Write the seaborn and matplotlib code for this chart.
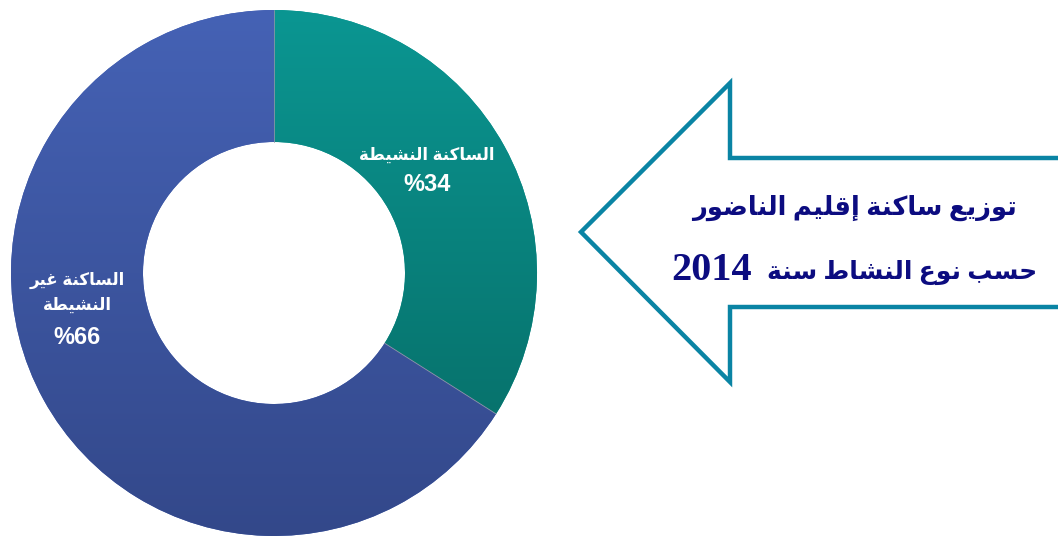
import re
import numpy as np
import matplotlib
matplotlib.use("Agg")
import matplotlib.pyplot as plt
import seaborn as sns

# data
categories = ["الساكنة النشيطة", "الساكنة غير النشيطة"]
shares = [34, 66]
slice_labels = [["الساكنة النشيطة"], ["الساكنة غير", "النشيطة"]]
title_line1 = "توزيع ساكنة إقليم الناضور"
title_line2 = "حسب نوع النشاط سنة"
title_year = "2014"

# gradient colours per slice (top -> bottom)
slice_colors = [("#0b9692", "#07736d"), ("#4562b5", "#33488a")]

sns.set_theme(style="white")
plt.rcParams["font.family"] = ["Liberation Sans", "DejaVu Sans"]

# small arabic shaper: isolated, final, initial, medial presentation forms
FORMS = {
    "ا": (0xFE8D, 0xFE8E, None, None),
    "إ": (0xFE87, 0xFE88, None, None),
    "ب": (0xFE8F, 0xFE90, 0xFE91, 0xFE92),
    "ة": (0xFE93, 0xFE94, None, None),
    "ت": (0xFE95, 0xFE96, 0xFE97, 0xFE98),
    "ح": (0xFEA1, 0xFEA2, 0xFEA3, 0xFEA4),
    "ر": (0xFEAD, 0xFEAE, None, None),
    "ز": (0xFEAF, 0xFEB0, None, None),
    "س": (0xFEB1, 0xFEB2, 0xFEB3, 0xFEB4),
    "ش": (0xFEB5, 0xFEB6, 0xFEB7, 0xFEB8),
    "ض": (0xFEBD, 0xFEBE, 0xFEBF, 0xFEC0),
    "ط": (0xFEC1, 0xFEC2, 0xFEC3, 0xFEC4),
    "ع": (0xFEC9, 0xFECA, 0xFECB, 0xFECC),
    "غ": (0xFECD, 0xFECE, 0xFECF, 0xFED0),
    "ق": (0xFED5, 0xFED6, 0xFED7, 0xFED8),
    "ك": (0xFED9, 0xFEDA, 0xFEDB, 0xFEDC),
    "ل": (0xFEDD, 0xFEDE, 0xFEDF, 0xFEE0),
    "م": (0xFEE1, 0xFEE2, 0xFEE3, 0xFEE4),
    "ن": (0xFEE5, 0xFEE6, 0xFEE7, 0xFEE8),
    "و": (0xFEED, 0xFEEE, None, None),
    "ي": (0xFEF1, 0xFEF2, 0xFEF3, 0xFEF4),
}
LAM_ALEF = {"ا": (0xFEFB, 0xFEFC), "إ": (0xFEF9, 0xFEFA)}


def joins_forward(c):
    return c in FORMS and FORMS[c][2] is not None


def shape(line):
    out = []
    i = 0
    while i < len(line):
        c = line[i]
        prev = line[i - 1] if i > 0 else ""
        nxt = line[i + 1] if i + 1 < len(line) else ""
        if c not in FORMS:
            out.append(c)
            i += 1
            continue
        jp = joins_forward(prev)
        if c == "ل" and nxt in LAM_ALEF:
            out.append(chr(LAM_ALEF[nxt][1 if jp else 0]))
            i += 2
            continue
        iso, fin, ini, med = FORMS[c]
        jn = ini is not None and nxt in FORMS
        if jp and jn:
            code = med
        elif jp:
            code = fin
        elif jn:
            code = ini
        else:
            code = iso
        out.append(chr(code))
        i += 1
    s = "".join(out)[::-1]
    return re.sub(r"[0-9]+", lambda m: m.group(0)[::-1], s)


W, H = 1058, 536
fig = plt.figure(figsize=(W / 100, H / 100), dpi=100)
ax = fig.add_axes([0, 0, 1, 1])

cx, cy, R, r_in = 274, H - 273, 263, 131
wedges, _ = ax.pie(shares, startangle=90, counterclock=False,
                   colors=[c[0] for c in slice_colors], center=(cx, cy),
                   radius=R, wedgeprops=dict(width=R - r_in, linewidth=0))

# vertical gradient inside each slice
for w, (top, bot) in zip(wedges, slice_colors):
    ext = w.get_path().get_extents()
    cmap = sns.blend_palette([bot, top], as_cmap=True)
    grad = np.linspace(0, 1, 256).reshape(-1, 1)
    im = ax.imshow(grad, cmap=cmap, origin="lower", aspect="auto",
                   extent=[ext.x0, ext.x1, ext.y0, ext.y1], zorder=2)
    im.set_clip_path(w)

# thin separators between slices
bounds = np.cumsum([0] + shares) / sum(shares)
for b in bounds[:2]:
    a = np.deg2rad(90 - 360 * b)
    ax.plot([cx + r_in * np.cos(a), cx + R * np.cos(a)],
            [cy + r_in * np.sin(a), cy + R * np.sin(a)],
            color="#8d93a8", lw=0.6, zorder=3)

# slice labels (text lines then percentage), baselines in image px
label_x = [427, 77]
label_base = [[160, 191], [285, 310, 344]]
for lx, lines, v, bases in zip(label_x, slice_labels, shares, label_base):
    for l, b in zip(lines, bases):
        ax.text(lx, H - b, shape(l), ha="center", va="baseline",
                color="white", fontsize=12, fontweight="bold", zorder=4)
    ax.text(lx, H - bases[-1], f"%{v}", ha="center", va="baseline",
            color="white", fontsize=17, fontweight="bold", zorder=4)

# arrow outline
arrow_x = [1070, 730, 730, 581, 730, 730, 1070]
arrow_y = [158, 158, 83, 232, 382, 307, 307]
ax.plot(arrow_x, [H - y for y in arrow_y], color="#0a84a4", lw=3.2,
        solid_joinstyle="miter", zorder=3)

navy = "#0c0c80"
tfont = ["Liberation Serif", "DejaVu Sans"]
ax.text(854, H - 215, shape(title_line1), ha="center", va="baseline",
        color=navy, fontsize=18.5, fontweight="bold", family=tfont)
ax.text(1037, H - 279, shape(title_line2), ha="right", va="baseline",
        color=navy, fontsize=18, fontweight="bold", family=tfont)
ax.text(671, H - 280, title_year, ha="left", va="baseline",
        color=navy, fontsize=29, fontweight="bold", family=tfont)

ax.set_xlim(0, W)
ax.set_ylim(0, H)
ax.set_aspect("auto")
ax.axis("off")

fig.savefig("out.png", dpi=100)
